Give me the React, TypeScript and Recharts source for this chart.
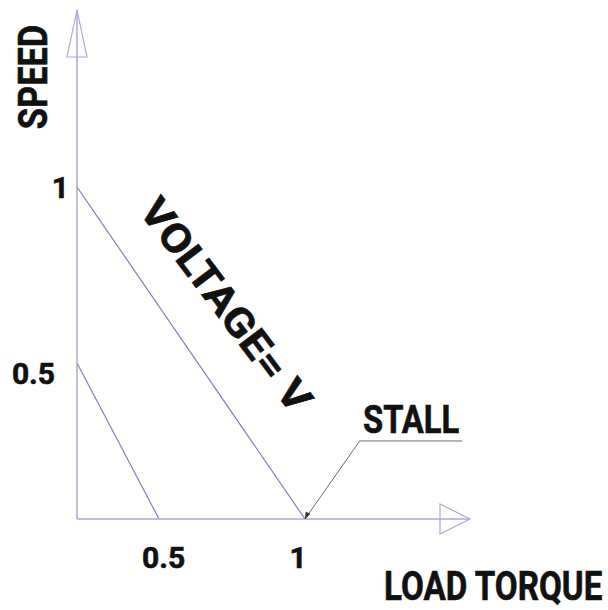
import React from "react";
import { Line, LineChart, ReferenceDot, XAxis, YAxis } from "recharts";

// values (the drawing is not to scale, ticks sit under their labels)
const X_TICKS = [0.38, 0.97];
const X_TICK_LABELS = ["0.5", "1"];
const Y_TICKS = [0.44, 1];
const Y_TICK_LABELS = ["0.5", "1"];

const fullVoltage = [
  { x: 0, y: 1 },
  { x: 1, y: 0 },
];
const halfVoltage = [
  { x: 0, y: 0.47 },
  { x: 0.36, y: 0 },
];
const stallLeader = [
  { x: 1, y: 0 },
  { x: 1.24, y: 0.235 },
  { x: 1.69, y: 0.235 },
];

const X_MAX = 1.7237;
const Y_MAX = 1.5331;

const AXIS = "#a9a9dc";
const CURVE = "#8080c0";
const LEADER = "#6c6c7c";
const FONT = "Roboto, 'DejaVu Sans', sans-serif";

const textStyle = {
  fontFamily: FONT,
  fontWeight: 700,
  fill: "#111",
  stroke: "#111",
  strokeWidth: 0.6,
};

function XTick(props: any) {
  const { x, y, payload } = props;
  const i = X_TICKS.indexOf(payload.value);
  return (
    <text x={x} y={y + 49} textAnchor="middle" fontSize={30} style={textStyle}>
      {X_TICK_LABELS[i]}
    </text>
  );
}

// the sketch's "0.5" sits further left than the "1"
const Y_TICK_GAP = [22, 8];

function YTick(props: any) {
  const { x, y, payload } = props;
  const i = Y_TICKS.indexOf(payload.value);
  return (
    <text
      x={x - Y_TICK_GAP[i]}
      y={y + 11}
      textAnchor="end"
      fontSize={30}
      style={textStyle}
    >
      {Y_TICK_LABELS[i]}
    </text>
  );
}

export default function App() {
  return (
    <div style={{ position: "absolute", left: 0, top: 0, background: "#fff" }}>
      <LineChart
        width={608}
        height={610}
        margin={{ top: 10, right: 138, bottom: 0, left: 0 }}
      >
        <XAxis
          type="number"
          dataKey="x"
          domain={[0, X_MAX]}
          ticks={X_TICKS}
          tick={<XTick />}
          tickLine={false}
          tickSize={0}
          tickMargin={0}
          height={91}
          axisLine={{ stroke: AXIS, strokeWidth: 1.5 }}
          allowDataOverflow
        />
        <YAxis
          type="number"
          dataKey="y"
          domain={[0, Y_MAX]}
          ticks={Y_TICKS}
          tick={<YTick />}
          tickLine={false}
          tickSize={0}
          tickMargin={0}
          width={77}
          axisLine={{ stroke: AXIS, strokeWidth: 1.5 }}
          allowDataOverflow
        />
        <Line
          data={fullVoltage}
          dataKey="y"
          stroke={CURVE}
          strokeWidth={1.2}
          dot={false}
          isAnimationActive={false}
        />
        <Line
          data={halfVoltage}
          dataKey="y"
          stroke={CURVE}
          strokeWidth={1.2}
          dot={false}
          isAnimationActive={false}
        />
        <Line
          data={stallLeader}
          dataKey="y"
          stroke={LEADER}
          strokeWidth={1}
          dot={false}
          isAnimationActive={false}
        />
        <ReferenceDot
          x={X_MAX}
          y={0}
          ifOverflow="visible"
          shape={(p: any) => (
            <polygon
              points={`${p.cx},${p.cy} ${p.cx - 30},${p.cy - 15} ${p.cx - 30},${p.cy + 15}`}
              fill="none"
              stroke={AXIS}
              strokeWidth={1.2}
            />
          )}
        />
        <ReferenceDot
          x={0}
          y={Y_MAX}
          ifOverflow="visible"
          shape={(p: any) => (
            <polygon
              points={`${p.cx},${p.cy} ${p.cx - 10},${p.cy + 47} ${p.cx + 10},${p.cy + 47}`}
              fill="none"
              stroke={AXIS}
              strokeWidth={1.2}
            />
          )}
        />
        <ReferenceDot
          x={1}
          y={0}
          ifOverflow="visible"
          shape={(p: any) => (
            <polygon
              points={`${p.cx},${p.cy} ${p.cx + 1},${p.cy - 7} ${p.cx + 5},${p.cy - 5}`}
              fill="#333"
              stroke="#333"
              strokeWidth={0.5}
            />
          )}
        />
        <text
          transform="translate(33, 77) rotate(-90) scale(0.86, 1)"
          textAnchor="middle"
          dominantBaseline="central"
          fontSize={40}
          style={textStyle}
        >
          SPEED
        </text>
        <text
          transform="translate(384, 600) scale(0.83, 1)"
          fontSize={40}
          style={textStyle}
        >
          LOAD TORQUE
        </text>
        <text
          transform="translate(363, 433) scale(0.84, 1)"
          fontSize={39}
          style={textStyle}
        >
          STALL
        </text>
        <text
          transform="translate(226, 305) rotate(53) scale(1.12, 1)"
          textAnchor="middle"
          dominantBaseline="central"
          fontSize={40}
          style={textStyle}
        >
          VOLTAGE= V
        </text>
      </LineChart>
    </div>
  );
}
